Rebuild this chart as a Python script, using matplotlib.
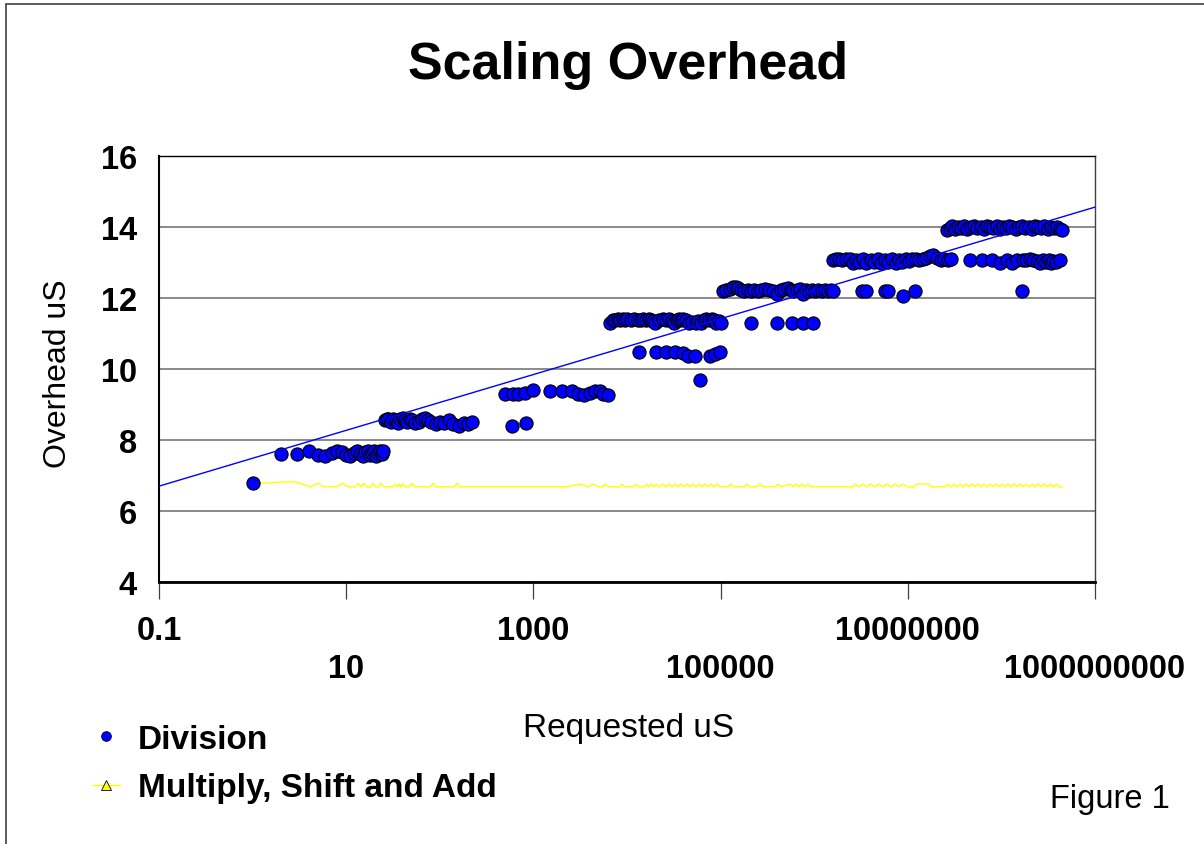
import matplotlib
matplotlib.use('Agg')
import matplotlib.pyplot as plt
from matplotlib.lines import Line2D
from matplotlib.patches import Rectangle
from matplotlib.ticker import FixedLocator, FixedFormatter
import numpy as np

plt.rcParams['font.family'] = ['Liberation Sans', 'DejaVu Sans']
plt.rcParams['font.weight'] = 'bold'

# ---- Division: requested uS -> overhead uS, grouped by level ----
first_x = [1]
first_y = [6.8]

lvl76_x = [2, 3, 4, 5, 6, 7, 8, 9, 10, 11, 12, 13, 14, 15, 16, 17, 18, 19, 20, 21, 22, 23, 24, 25]
lvl76_y = [7.6, 7.6, 7.68, 7.58, 7.55, 7.62, 7.7, 7.65, 7.58, 7.55, 7.62, 7.7,
           7.6, 7.55, 7.65, 7.7, 7.58, 7.62, 7.68, 7.55, 7.62, 7.7, 7.6, 7.68]

lvl85_x = [26, 27, 28, 30, 32, 34, 36, 38, 40, 42, 45, 48, 50, 55, 60, 65, 70, 75, 80, 90,
           100, 110, 125, 140, 160, 180, 200, 220, 590, 830]
lvl85_y = [8.55, 8.6, 8.58, 8.52, 8.6, 8.55, 8.48, 8.58, 8.62, 8.55, 8.5, 8.6, 8.55, 8.48,
           8.52, 8.58, 8.62, 8.55, 8.5, 8.45, 8.52, 8.48, 8.55, 8.45, 8.4, 8.48, 8.45, 8.5,
           8.4, 8.48]

lvl93_x = [500, 610, 680, 810, 990, 1500, 2000, 2600, 3000, 3500, 4000, 4500, 5100, 5500, 6300]
lvl93_y = [9.3, 9.3, 9.3, 9.32, 9.4, 9.38, 9.38, 9.38, 9.3, 9.27, 9.32, 9.38, 9.38, 9.3, 9.28]

lvl113_x = [6600, 7000, 7500, 8000, 8500, 9000, 9500, 10000, 11000, 12000, 13000, 14000,
            15000, 16000, 17000, 18000, 19000, 20000, 22000, 24000, 26000, 28000, 30000,
            32000, 34000, 36000, 38000, 40000, 43000, 46000, 50000, 54000, 58000, 62000,
            66000, 70000, 75000, 80000, 85000, 90000, 95000, 100000]
lvl113_y = [11.3, 11.38, 11.38, 11.4, 11.38, 11.4, 11.38, 11.4, 11.38, 11.4, 11.38, 11.38,
            11.4, 11.38, 11.4, 11.38, 11.35, 11.3, 11.38, 11.4, 11.38, 11.4, 11.35, 11.3,
            11.38, 11.4, 11.38, 11.4, 11.38, 11.3, 11.32, 11.3, 11.35, 11.3, 11.38, 11.4,
            11.38, 11.4, 11.38, 11.3, 11.35, 11.3]

lvl105_x = [13500, 20500, 26000, 32500, 39500, 45000, 53000, 60000, 77000, 87000, 98000]
lvl105_y = [10.48, 10.48, 10.48, 10.48, 10.45, 10.38, 10.38, 9.7, 10.38, 10.43, 10.48]

lvl122_x = [106000, 115000, 125000, 135000, 145000, 155000, 165000, 180000, 195000, 210000,
            230000, 250000, 270000, 300000, 330000, 360000, 400000, 440000, 480000, 520000,
            560000, 600000, 650000, 700000, 760000, 820000, 880000, 950000, 1020000, 1100000,
            1200000, 1300000, 1400000, 1500000, 1600000]
lvl122_y = [12.2, 12.22, 12.25, 12.3, 12.32, 12.28, 12.22, 12.2, 12.22, 12.2, 12.22, 12.2,
            12.22, 12.25, 12.22, 12.2, 12.1, 12.22, 12.25, 12.28, 12.22, 12.2, 12.22, 12.25,
            12.1, 12.22, 12.2, 12.22, 12.2, 12.22, 12.2, 12.22, 12.2, 12.22, 12.2]

lvl113b_x = [211000, 400000, 575000, 755000, 970000]
lvl113b_y = [11.3, 11.3, 11.3, 11.3, 11.3]

lvl131_x = [1580000, 1700000, 1850000, 2000000, 2200000, 2400000, 2600000, 2800000, 3000000,
            3300000, 3600000, 4000000, 4400000, 4800000, 5200000, 5700000, 6200000, 6800000,
            7400000, 8000000, 8700000, 9500000, 10300000, 11200000, 12200000, 13300000,
            14500000, 15800000, 17200000, 18800000, 20500000, 22400000, 24500000, 26700000,
            29000000]
lvl131_y = [13.08, 13.1, 13.1, 13.08, 13.1, 13.1, 13.0, 13.08, 13.02, 13.1, 13.0, 13.08,
            13.02, 13.1, 13.0, 13.08, 13.02, 13.1, 13.0, 13.08, 13.02, 13.1, 13.05, 13.1,
            13.1, 13.08, 13.1, 13.12, 13.18, 13.2, 13.12, 13.08, 13.1, 13.08, 13.1]

lvl131b_x = [46000000, 62000000, 79000000, 97000000, 115000000, 130000000, 147000000,
             170000000, 185000000, 200000000, 220000000, 240000000, 260000000, 280000000,
             300000000, 320000000, 340000000, 360000000, 385000000, 420000000]
lvl131b_y = [13.08, 13.08, 13.08, 13.0, 13.08, 13.0, 13.08, 13.08, 13.08, 13.1, 13.08, 13.05,
             13.0, 13.08, 13.02, 13.08, 13.0, 13.05, 13.02, 13.08]

lvl122b_x = [3250000, 3550000, 5650000, 6100000, 8900000, 11900000, 166000000]
lvl122b_y = [12.2, 12.2, 12.2, 12.2, 12.05, 12.2, 12.2]

lvl140_x = [26000000, 28000000, 30000000, 32000000, 34000000, 37000000, 40000000, 43000000,
            47000000, 51000000, 55000000, 60000000, 65000000, 70000000, 76000000, 82000000,
            89000000, 96000000, 104000000, 112000000, 121000000, 131000000, 142000000,
            154000000, 166000000, 180000000, 195000000, 210000000, 228000000, 246000000,
            266000000, 288000000, 312000000, 338000000, 366000000, 396000000, 420000000,
            440000000]
lvl140_y = [13.92, 13.98, 14.02, 13.95, 14.0, 13.98, 14.02, 13.95, 14.0, 14.02, 13.98, 14.0,
            13.95, 14.02, 14.0, 13.98, 14.02, 13.95, 14.0, 13.98, 14.02, 14.0, 13.95, 14.0,
            14.02, 13.98, 14.0, 13.95, 14.02, 14.0, 13.98, 14.02, 13.95, 14.0, 13.98, 14.0,
            13.95, 13.92]

# ---- Multiply, Shift and Add (in pieces along x) ----
msa_a_x = [1, 2.1, 2.9, 4.1, 5.0, 5.8, 7.8, 9.2, 10.4, 12.4,
           13.4, 14.4, 15.5, 16.7, 18.4, 19.3, 20.8, 21.9, 23.5, 25.3,
           31.6, 33, 35, 36.7, 38.5, 40.4, 42.5, 46.8, 50.4, 54.3,
           78.5, 84.6, 91, 142, 153, 164]
msa_a_y = [6.76, 6.82, 6.82, 6.68, 6.78, 6.68, 6.68, 6.78, 6.68, 6.68,
           6.78, 6.68, 6.78, 6.68, 6.68, 6.78, 6.68, 6.68, 6.78, 6.68,
           6.68, 6.76, 6.68, 6.76, 6.68, 6.76, 6.68, 6.68, 6.78, 6.68,
           6.68, 6.78, 6.68, 6.68, 6.78, 6.68]

msa_b_x = [2340, 3150, 3830, 4330, 4900, 5540, 5820, 6300, 8420, 8850,
           9540, 11600, 12500, 13400, 15500, 16000, 17200, 18000, 19400, 20400,
           22000, 24300, 26100, 28100, 30300, 32600, 35100, 37800, 40700, 43800,
           47100, 50700, 54600, 58800, 63300, 68100, 73300, 78900, 84900, 91500,
           98600]
msa_b_y = [6.68, 6.76, 6.68, 6.76, 6.68, 6.68, 6.76, 6.68, 6.68, 6.76,
           6.68, 6.68, 6.76, 6.68, 6.68, 6.76, 6.68, 6.76, 6.68, 6.76,
           6.68, 6.76, 6.68, 6.76, 6.68, 6.76, 6.68, 6.76, 6.68, 6.76,
           6.68, 6.76, 6.68, 6.76, 6.68, 6.76, 6.68, 6.76, 6.68, 6.76,
           6.68]

msa_c_x = [120000, 129000, 139000, 178000, 191000, 206000, 245000, 264000, 284000, 381000,
           410000, 442000, 551000, 594000, 640000, 689000, 741000, 798000, 859000, 925000]
msa_c_y = [6.68, 6.76, 6.68, 6.68, 6.76, 6.68, 6.68, 6.76, 6.68, 6.68,
           6.76, 6.68, 6.76, 6.68, 6.76, 6.68, 6.76, 6.68, 6.76, 6.68]

msa_d_x = [2600000, 2730000, 3010000, 3320000, 3660000, 4040000, 4460000, 4920000, 5430000,
           6000000, 6620000, 7300000, 8050000, 8890000, 9800000, 11600000, 12300000,
           16800000, 17800000, 21000000]
msa_d_y = [6.68, 6.76, 6.68, 6.76, 6.68, 6.76, 6.68, 6.76, 6.68,
           6.76, 6.68, 6.76, 6.68, 6.76, 6.68, 6.68, 6.76,
           6.76, 6.68, 6.68]

msa_e_x = [25000000, 26900000, 29000000, 31200000, 33600000, 36100000, 38900000, 41900000,
           45100000, 48600000, 52300000, 56300000, 60700000, 65300000, 70300000, 75800000,
           81600000, 87800000, 94600000, 102000000, 110000000, 118000000, 127000000,
           137000000, 148000000, 159000000, 171000000, 184000000, 199000000, 214000000,
           230000000, 248000000, 267000000, 288000000, 310000000, 334000000, 360000000,
           387000000, 417000000, 449000000]
msa_e_y = [6.68, 6.76, 6.68, 6.76, 6.68, 6.76, 6.68, 6.76,
           6.68, 6.76, 6.68, 6.76, 6.68, 6.76, 6.68, 6.76,
           6.68, 6.76, 6.68, 6.76, 6.68, 6.76, 6.68,
           6.76, 6.68, 6.76, 6.68, 6.76, 6.68, 6.76,
           6.68, 6.76, 6.68, 6.76, 6.68, 6.76, 6.68,
           6.76, 6.68, 6.68]

# log trendline of Division (per decade)
trend_at_1 = 7.486
trend_slope = 0.786

y_ticks = [4, 6, 8, 10, 12, 14, 16]
x_ticks_top = [0.1, 1000, 1e7]
x_labels_top = ['0.1', '1000', '10000000']
x_ticks_low = [10, 1e5, 1e9]
x_labels_low = ['10', '100000', '1000000000']

div_x = (first_x + lvl76_x + lvl85_x + lvl93_x + lvl113_x + lvl105_x + lvl122_x + lvl113b_x
         + lvl131_x + lvl131b_x + lvl122b_x + lvl140_x)
div_y = (first_y + lvl76_y + lvl85_y + lvl93_y + lvl113_y + lvl105_y + lvl122_y + lvl113b_y
         + lvl131_y + lvl131b_y + lvl122b_y + lvl140_y)
msa_x = msa_a_x + msa_b_x + msa_c_x + msa_d_x + msa_e_x
msa_y = msa_a_y + msa_b_y + msa_c_y + msa_d_y + msa_e_y

W, H = 1204, 845
fig = plt.figure(figsize=(W / 100, H / 100), dpi=100)
ax = fig.add_axes([159 / W, 1 - 583 / H, 936 / W, 426 / H])
ax.set_xscale('log')

ax.plot(msa_x, msa_y, color='#FFFF00', lw=1, zorder=2)
ax.plot(div_x, div_y, 'o', ms=9.5, mfc='#0000FF', mec='#000000', mew=0.8, zorder=3)
tx = np.array([0.1, 1e9])
ax.plot(tx, trend_at_1 + trend_slope * np.log10(tx), color='#0000FF', lw=1, zorder=4)

ax.set_xlim(0.1, 1e9)
ax.set_ylim(4, 16)
ax.set_yticks(y_ticks)
ax.tick_params(axis='y', length=0, pad=16, labelsize=23.5)
ax.yaxis.grid(True, color='#808080', lw=1.3)
ax.set_axisbelow(True)

ax.xaxis.set_major_locator(FixedLocator(x_ticks_top))
ax.xaxis.set_major_formatter(FixedFormatter(x_labels_top))
ax.xaxis.set_minor_locator(FixedLocator(x_ticks_low))
ax.xaxis.set_minor_formatter(FixedFormatter(x_labels_low))
ax.tick_params(axis='x', which='both', length=12, width=0.9, color='#404040',
               direction='out', labelsize=23.5)
ax.tick_params(axis='x', which='major', pad=12)
ax.tick_params(axis='x', which='minor', pad=39)

ax.spines['left'].set_linewidth(1.5)
ax.spines['bottom'].set_linewidth(2)
ax.spines['top'].set_linewidth(1)
ax.spines['right'].set_linewidth(1)
ax.spines['right'].set_color('#404040')

fig.text(628 / W, 1 - 65 / H, 'Scaling Overhead', ha='center', va='center',
         fontsize=37.5, weight='bold')
fig.text(58 / W, 1 - 374 / H, 'Overhead uS', rotation=90, ha='center', va='center',
         fontsize=23, weight='normal')
fig.text(629 / W, 1 - 729 / H, 'Requested uS', ha='center', va='center',
         fontsize=24, weight='normal')
fig.text(1110 / W, 1 - 800 / H, 'Figure 1', ha='center', va='center',
         fontsize=23.5, weight='normal')

h1 = Line2D([], [], ls='none', marker='o', ms=7, mfc='#0000FF', mec='#000033', mew=0.6)
h2 = Line2D([], [], color='#FFFF00', lw=1, marker='^', ms=7, mfc='#FFFF00',
            mec='black', mew=0.6)
fig.legend([h1, h2], ['Division', 'Multiply, Shift and Add'], loc='upper left',
           bbox_to_anchor=(93 / W, 1 - 725 / H), frameon=False, fontsize=24,
           handlelength=0.8, handletextpad=0.55, labelspacing=0.52, borderpad=0,
           borderaxespad=0)

fig.add_artist(Rectangle((6 / W, -0.05), 1.1, 1 - 5 / H + 0.05, transform=fig.transFigure,
                         fill=False, ec='#404040', lw=1.2))

fig.savefig('out.png', dpi=100)
